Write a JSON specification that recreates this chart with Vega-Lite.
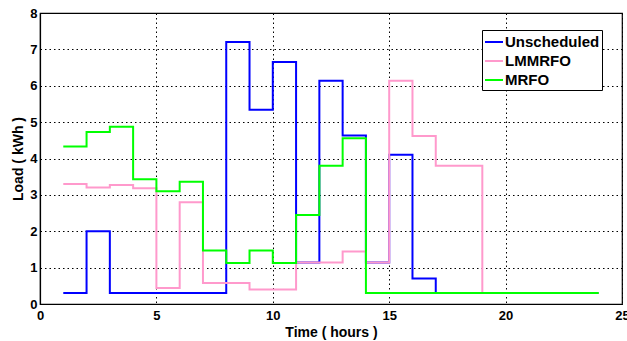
{
  "$schema": "https://vega.github.io/schema/vega-lite/v6.json",
  "autosize": "none",
  "width": 582,
  "height": 291,
  "padding": {"left": 40, "top": 13, "right": 5, "bottom": 37},
  "background": "white",
  "config": {
    "font": "Liberation Sans",
    "view": {"stroke": "black", "strokeWidth": 1.2},
    "axis": {
      "labelFont": "Liberation Sans",
      "labelFontWeight": "bold",
      "labelFontSize": 13,
      "labelColor": "black",
      "titleFont": "Liberation Sans",
      "titleFontWeight": "bold",
      "titleFontSize": 14,
      "titleColor": "black",
      "domainColor": "black",
      "domainWidth": 1.2,
      "ticks": false,
      "labelFlush": false,
      "labelOverlap": false,
      "grid": true,
      "gridColor": "black",
      "gridOpacity": 1,
      "gridWidth": 1,
      "gridDash": [1.5, 3]
    },
    "legend": {
      "labelFont": "Liberation Sans",
      "labelFontWeight": "bold",
      "labelFontSize": 15,
      "labelColor": "black"
    }
  },
  "data": {
    "values": [
      {"t": 1, "load": 0.3, "series": "Unscheduled"},
      {"t": 2, "load": 2.0, "series": "Unscheduled"},
      {"t": 3, "load": 0.3, "series": "Unscheduled"},
      {"t": 4, "load": 0.3, "series": "Unscheduled"},
      {"t": 5, "load": 0.3, "series": "Unscheduled"},
      {"t": 6, "load": 0.3, "series": "Unscheduled"},
      {"t": 7, "load": 0.3, "series": "Unscheduled"},
      {"t": 8, "load": 7.2, "series": "Unscheduled"},
      {"t": 9, "load": 5.34, "series": "Unscheduled"},
      {"t": 10, "load": 6.65, "series": "Unscheduled"},
      {"t": 11, "load": 1.14, "series": "Unscheduled"},
      {"t": 12, "load": 6.14, "series": "Unscheduled"},
      {"t": 13, "load": 4.63, "series": "Unscheduled"},
      {"t": 14, "load": 1.14, "series": "Unscheduled"},
      {"t": 15, "load": 4.1, "series": "Unscheduled"},
      {"t": 16, "load": 0.7, "series": "Unscheduled"},
      {"t": 17, "load": 0.3, "series": "Unscheduled"},
      {"t": 18, "load": 0.3, "series": "Unscheduled"},
      {"t": 19, "load": 0.3, "series": "Unscheduled"},
      {"t": 20, "load": 0.3, "series": "Unscheduled"},
      {"t": 21, "load": 0.3, "series": "Unscheduled"},
      {"t": 22, "load": 0.3, "series": "Unscheduled"},
      {"t": 23, "load": 0.3, "series": "Unscheduled"},
      {"t": 24, "load": 0.3, "series": "Unscheduled"},
      {"t": 1, "load": 3.3, "series": "LMMRFO"},
      {"t": 2, "load": 3.2, "series": "LMMRFO"},
      {"t": 3, "load": 3.27, "series": "LMMRFO"},
      {"t": 4, "load": 3.18, "series": "LMMRFO"},
      {"t": 5, "load": 0.44, "series": "LMMRFO"},
      {"t": 6, "load": 2.8, "series": "LMMRFO"},
      {"t": 7, "load": 0.58, "series": "LMMRFO"},
      {"t": 8, "load": 0.58, "series": "LMMRFO"},
      {"t": 9, "load": 0.4, "series": "LMMRFO"},
      {"t": 10, "load": 0.4, "series": "LMMRFO"},
      {"t": 11, "load": 1.14, "series": "LMMRFO"},
      {"t": 12, "load": 1.14, "series": "LMMRFO"},
      {"t": 13, "load": 1.44, "series": "LMMRFO"},
      {"t": 14, "load": 1.14, "series": "LMMRFO"},
      {"t": 15, "load": 6.14, "series": "LMMRFO"},
      {"t": 16, "load": 4.62, "series": "LMMRFO"},
      {"t": 17, "load": 3.8, "series": "LMMRFO"},
      {"t": 18, "load": 3.8, "series": "LMMRFO"},
      {"t": 19, "load": 0.3, "series": "LMMRFO"},
      {"t": 20, "load": 0.3, "series": "LMMRFO"},
      {"t": 21, "load": 0.3, "series": "LMMRFO"},
      {"t": 22, "load": 0.3, "series": "LMMRFO"},
      {"t": 23, "load": 0.3, "series": "LMMRFO"},
      {"t": 24, "load": 0.3, "series": "LMMRFO"},
      {"t": 1, "load": 4.33, "series": "MRFO"},
      {"t": 2, "load": 4.73, "series": "MRFO"},
      {"t": 3, "load": 4.87, "series": "MRFO"},
      {"t": 4, "load": 3.43, "series": "MRFO"},
      {"t": 5, "load": 3.1, "series": "MRFO"},
      {"t": 6, "load": 3.36, "series": "MRFO"},
      {"t": 7, "load": 1.47, "series": "MRFO"},
      {"t": 8, "load": 1.13, "series": "MRFO"},
      {"t": 9, "load": 1.47, "series": "MRFO"},
      {"t": 10, "load": 1.13, "series": "MRFO"},
      {"t": 11, "load": 2.45, "series": "MRFO"},
      {"t": 12, "load": 3.8, "series": "MRFO"},
      {"t": 13, "load": 4.56, "series": "MRFO"},
      {"t": 14, "load": 0.3, "series": "MRFO"},
      {"t": 15, "load": 0.3, "series": "MRFO"},
      {"t": 16, "load": 0.3, "series": "MRFO"},
      {"t": 17, "load": 0.3, "series": "MRFO"},
      {"t": 18, "load": 0.3, "series": "MRFO"},
      {"t": 19, "load": 0.3, "series": "MRFO"},
      {"t": 20, "load": 0.3, "series": "MRFO"},
      {"t": 21, "load": 0.3, "series": "MRFO"},
      {"t": 22, "load": 0.3, "series": "MRFO"},
      {"t": 23, "load": 0.3, "series": "MRFO"},
      {"t": 24, "load": 0.3, "series": "MRFO"}
    ]
  },
  "mark": {"type": "line", "interpolate": "step-after", "strokeWidth": 2},
  "encoding": {
    "x": {
      "field": "t",
      "type": "quantitative",
      "scale": {"domain": [0, 25], "nice": false},
      "axis": {
        "values": [0, 5, 10, 15, 20, 25],
        "title": "Time ( hours )",
        "labelPadding": 5,
        "titlePadding": 3
      }
    },
    "y": {
      "field": "load",
      "type": "quantitative",
      "scale": {"domain": [0, 8], "nice": false},
      "axis": {
        "values": [0, 1, 2, 3, 4, 5, 6, 7, 8],
        "title": "Load ( kWh )",
        "labelPadding": 3,
        "titlePadding": 4
      }
    },
    "color": {
      "field": "series",
      "type": "nominal",
      "scale": {
        "domain": ["Unscheduled", "LMMRFO", "MRFO"],
        "range": ["#0000ff", "#ff99cc", "#00ff00"]
      },
      "legend": {
        "title": null,
        "orient": "none",
        "legendX": 442,
        "legendY": 17,
        "symbolType": "stroke",
        "symbolSize": 324,
        "symbolStrokeWidth": 2,
        "labelOffset": 1,
        "padding": 2,
        "rowPadding": 1,
        "strokeColor": "black",
        "fillColor": "white",
        "labelExpr": "datum.value === 'Unscheduled' ? '\u2002Unscheduled\u2003\u2003' : datum.label"
      }
    }
  }
}
